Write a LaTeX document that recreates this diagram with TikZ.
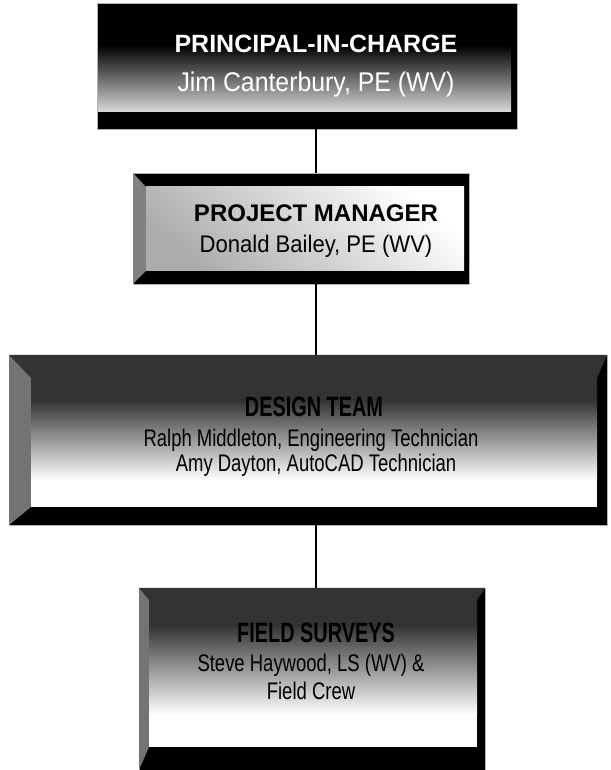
\documentclass[tikz,border=0pt]{standalone}
\usepackage{fontspec}
\setmainfont{Liberation Sans}
\newfontfamily\nreg[FakeStretch=0.77]{Liberation Sans}
\newfontfamily\nbold[FakeStretch=0.71]{Liberation Sans Bold}
\newfontfamily\sreg[FakeStretch=0.92]{Liberation Sans}
\tikzset{
  boxnode/.style={rectangle, inner sep=0pt, outer sep=0pt, fill=black, draw=gray!60, line width=0.6pt},
  conn/.style={draw=black, line width=1.6pt},
  lbl/.style={anchor=base, inner sep=0pt},
}
\begin{document}
\begin{tikzpicture}[x=1pt,y=1pt]
\useasboundingbox (0,0) rectangle (610,770);
\fill[white] (0,0) rectangle (610,770);

% ---------- Box 1: Principal-in-charge ----------
\node[boxnode, minimum width=420pt, minimum height=126pt] (b1) at (307,704) {};
\shade[top color=black, bottom color=gray!30] (98,658) rectangle (511,725);
\node[lbl, text=white, font=\bfseries\fontsize{25}{30}\selectfont] (t1a) at (316,717) {PRINCIPAL-IN-CHARGE};
\node[lbl, text=white, font=\sreg\fontsize{27}{32}\selectfont] (t1b) at (316,678) {Jim Canterbury, PE (WV)};

% ---------- Box 2: Project manager ----------
\node[boxnode, minimum width=336pt, minimum height=111pt] (b2) at (301,541.5) {};
\fill[black!50] (133,597) -- (146,583) -- (146,499) -- (133,486) -- cycle;
\fill[white] (146,499) rectangle (464,583);
\shade[top color=white, middle color=white, bottom color=gray!65, shading angle=-40] (146,499) rectangle (464,583);
\node[lbl, font=\bfseries\fontsize{24}{29}\selectfont] (t2a) at (316,548) {PROJECT MANAGER};
\node[lbl, font=\sreg\fontsize{24}{29}\selectfont] (t2b) at (316,517) {Donald Bailey, PE (WV)};

% ---------- Box 3: Design team ----------
\node[boxnode, minimum width=598pt, minimum height=170pt] (b3) at (308,330) {};
\fill[black!80] (9,415) -- (607,415) -- (597,392) -- (31,392) -- cycle;
\fill[black!55] (9,415) -- (31,392) -- (31,263) -- (9,245) -- cycle;
\fill[white] (31,263) rectangle (597,392);
\fill[black!80] (31,370) rectangle (597,392);
\shade[top color=black!80, bottom color=white] (31,290) rectangle (597,370);
\node[lbl, font=\nbold\fontsize{28}{33}\selectfont] (t3a) at (314,353) {DESIGN TEAM};
\node[lbl, font=\nreg\fontsize{24}{29}\selectfont] (t3b) at (311,323) {Ralph Middleton, Engineering Technician};
\node[lbl, font=\nreg\fontsize{24}{29}\selectfont] (t3c) at (316,298) {Amy Dayton, AutoCAD Technician};

% ---------- Box 4: Field surveys ----------
\node[boxnode, minimum width=346pt, minimum height=182pt] (b4) at (312,91) {};
\fill[black!80] (139,182) -- (485,182) -- (477,170) -- (149,170) -- cycle;
\fill[black!55] (139,182) -- (149,170) -- (149,23) -- (139,0) -- cycle;
\fill[white] (149,23) rectangle (477,170);
\fill[black!80] (149,145) rectangle (477,170);
\shade[top color=black!80, bottom color=white] (149,55) rectangle (477,145);
\node[lbl, font=\nbold\fontsize{28}{33}\selectfont] (t4a) at (316,127) {FIELD SURVEYS};
\node[lbl, font=\nreg\fontsize{24}{29}\selectfont] (t4b) at (311,98) {Steve Haywood, LS (WV) \&};
\node[lbl, font=\nreg\fontsize{24}{29}\selectfont] (t4c) at (311,70) {Field Crew};

% ---------- Connectors ----------
\draw[conn] (b1.south -| t1a) -- (b2.north -| t1a);
\draw[conn] (b2.south -| t1a) -- (b3.north -| t1a);
\draw[conn] (b3.south -| t1a) -- (b4.north -| t1a);
\end{tikzpicture}
\end{document}
